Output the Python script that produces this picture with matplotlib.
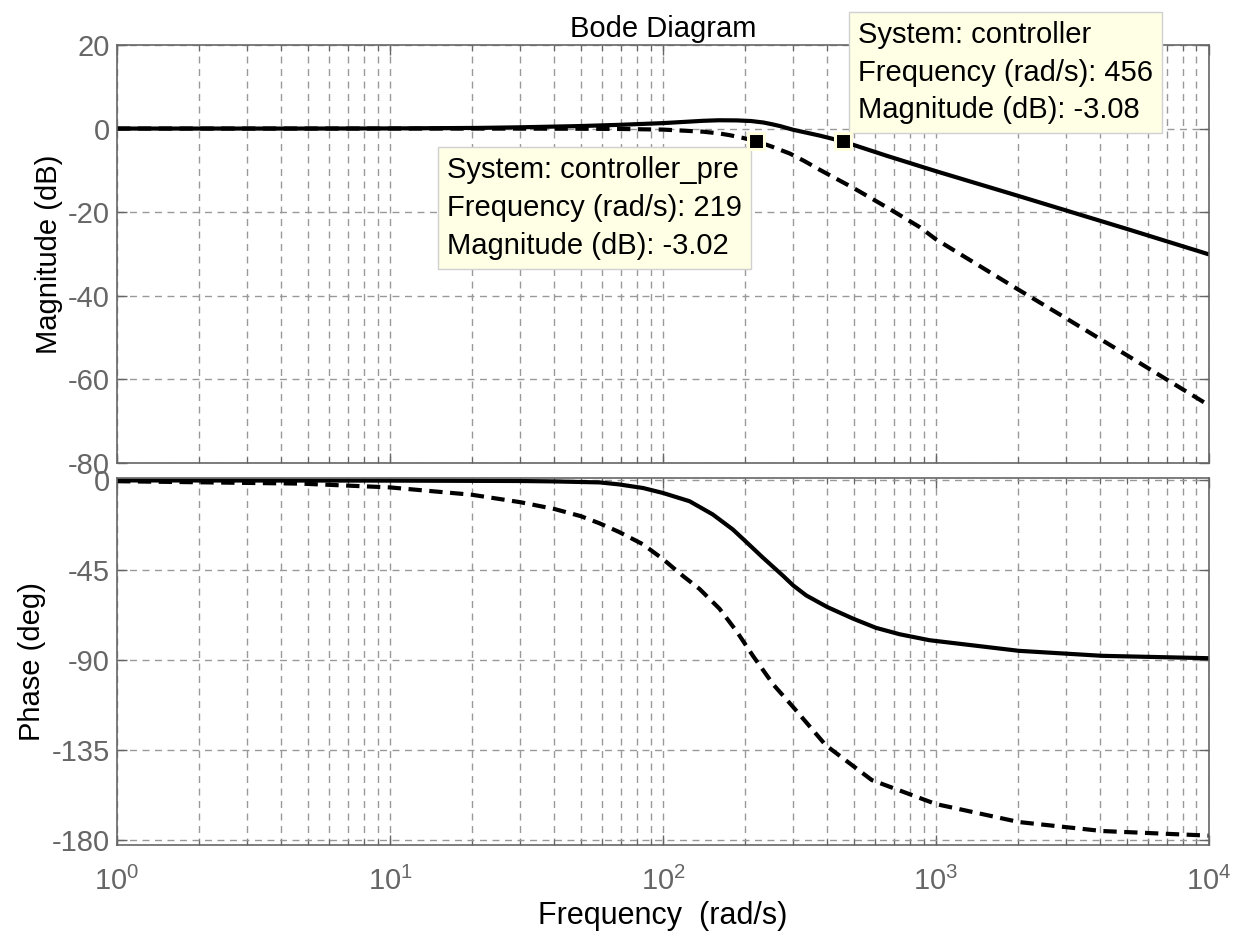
import matplotlib
matplotlib.use("Agg")
import matplotlib.pyplot as plt
from matplotlib.ticker import LogLocator, NullFormatter

plt.rcParams['font.family'] = ['Liberation Sans', 'DejaVu Sans']
plt.rcParams['axes.unicode_minus'] = False

# values
# controller (solid)
mag_freq_ctrl = [1, 5, 10, 21, 30, 50, 70, 100, 140, 160, 186, 210, 233, 250,
                 268, 300, 376, 456, 659, 1000, 2000, 3000, 5000, 10000]
mag_ctrl = [0.0, 0.0, 0.03, 0.15, 0.3, 0.6, 0.9, 1.3, 1.85, 1.98, 1.95, 1.8,
            1.45, 1.05, 0.6, -0.3, -1.7, -3.08, -6.5, -10.2, -16.1, -19.6,
            -24.0, -30.1]
ph_freq_ctrl = [1, 10, 30, 40, 58.6, 69, 84.5, 100, 125, 152, 180, 200, 232,
                275, 300, 335, 400, 497, 603, 736, 948, 2013, 4063, 10000]
phase_ctrl = [0.0, -0.1, -0.3, -0.5, -1.0, -2.0, -3.8, -6.3, -10.4, -17.0,
              -24.5, -30.3, -38.6, -47.7, -52.6, -57.6, -63.4, -69.2, -73.8,
              -77.0, -80.0, -85.3, -87.8, -89.0]

# controller_pre (dashed)
mag_freq_pre = [1, 10, 30, 50, 70, 100, 140, 160, 176, 195, 219, 250, 292, 330,
                376, 498, 659, 873, 1000, 2000, 3000, 5000, 10000]
mag_pre = [0.0, 0.0, -0.02, -0.05, -0.1, -0.25, -0.75, -1.15, -1.6, -2.2,
           -3.02, -4.3, -6.0, -7.8, -9.9, -14.2, -18.8, -23.6, -26.5, -38.5,
           -45.4, -54.2, -66.2]
ph_freq_pre = [1, 4.7, 10, 20, 30, 40, 50, 58.6, 69, 84.5, 100, 118, 136, 161,
               186, 214, 254, 300, 395, 582, 1000, 2013, 4063, 10000]
phase_pre = [-0.4, -1.6, -3.5, -7.2, -10.9, -14.3, -17.9, -21.5, -25.8, -32.0,
             -39.4, -47.7, -54.3, -64.2, -75.5, -88.0, -102.3, -113.5, -132.6,
             -150.0, -162.0, -171.0, -175.5, -177.8]

tip_freq = [219, 456]
tip_mag = [-3.02, -3.08]
tip_text = ["System: controller_pre\nFrequency (rad/s): 219\nMagnitude (dB): -3.02",
            "System: controller\nFrequency (rad/s): 456\nMagnitude (dB): -3.08"]

mag_ticks = [20, 0, -20, -40, -60, -80]
phase_ticks = [0, -45, -90, -135, -180]

fig = plt.figure(figsize=(12.41, 9.36), dpi=100)
ax_mag = fig.add_axes([0.0943, 0.5053, 0.8799, 0.4467])
ax_ph = fig.add_axes([0.0943, 0.0972, 0.8799, 0.3921], sharex=ax_mag)

gray = '#666666'
for ax in (ax_mag, ax_ph):
    ax.set_xscale('log')
    ax.set_xlim(1, 1e4)
    ax.xaxis.set_major_locator(LogLocator(base=10, numticks=10))
    ax.xaxis.set_minor_locator(LogLocator(base=10, subs=range(2, 10), numticks=50))
    ax.xaxis.set_minor_formatter(NullFormatter())
    ax.tick_params(which='both', direction='in', top=True, right=True,
                   colors=gray, labelsize=21, pad=5)
    ax.tick_params(axis='x', which='major', pad=16)
    ax.tick_params(which='major', length=7, width=1)
    ax.tick_params(which='minor', length=4, width=0.8)
    ax.grid(True, which='major', axis='both', color='#999999', ls=(0, (5, 4)), lw=1)
    ax.grid(True, which='minor', axis='x', color='#999999', ls=(0, (5, 4)), lw=1)
    for s in ax.spines.values():
        s.set_color(gray)
        s.set_linewidth(1.2)
    ax.set_axisbelow(True)

dash = (0, (3.2, 1.8))
ax_mag.plot(mag_freq_ctrl, mag_ctrl, color='black', lw=3)
ax_mag.plot(mag_freq_pre, mag_pre, color='black', lw=3, ls=dash)
ax_mag.set_ylim(-80, 20)
ax_mag.set_yticks(mag_ticks)
ax_mag.tick_params(axis='x', labelbottom=False)
ax_mag.set_ylabel('Magnitude (dB)', fontsize=21, labelpad=4)
ax_mag.set_title('Bode Diagram', fontsize=21, pad=6)

ax_ph.plot(ph_freq_ctrl, phase_ctrl, color='black', lw=3)
ax_ph.plot(ph_freq_pre, phase_pre, color='black', lw=3, ls=dash)
ax_ph.set_ylim(-182.5, 1.2)
ax_ph.set_yticks(phase_ticks)
ax_ph.set_ylabel('Phase (deg)', fontsize=21, labelpad=4)
ax_ph.set_xlabel('Frequency  (rad/s)', fontsize=22, labelpad=3)

# data tips
ax_mag.plot(tip_freq, tip_mag, ls='none', marker='s', ms=11, mfc='black',
            mec='#ffffe0', mew=2.2, zorder=10, clip_on=False)
box = dict(boxstyle='square,pad=0.3', fc='#ffffe6', ec='#d0d0d0', lw=1)
ax_mag.annotate(tip_text[0], xy=(tip_freq[0], tip_mag[0]), xytext=(-14, -15),
                textcoords='offset pixels', ha='right', va='top', fontsize=21,
                multialignment='left', linespacing=1.45, bbox=box, zorder=6)
ax_mag.annotate(tip_text[1], xy=(tip_freq[1], tip_mag[1]), xytext=(15, 17),
                textcoords='offset pixels', ha='left', va='bottom', fontsize=21,
                multialignment='left', linespacing=1.45, bbox=box, zorder=6,
                annotation_clip=False)

fig.savefig('out.png', dpi=100)
